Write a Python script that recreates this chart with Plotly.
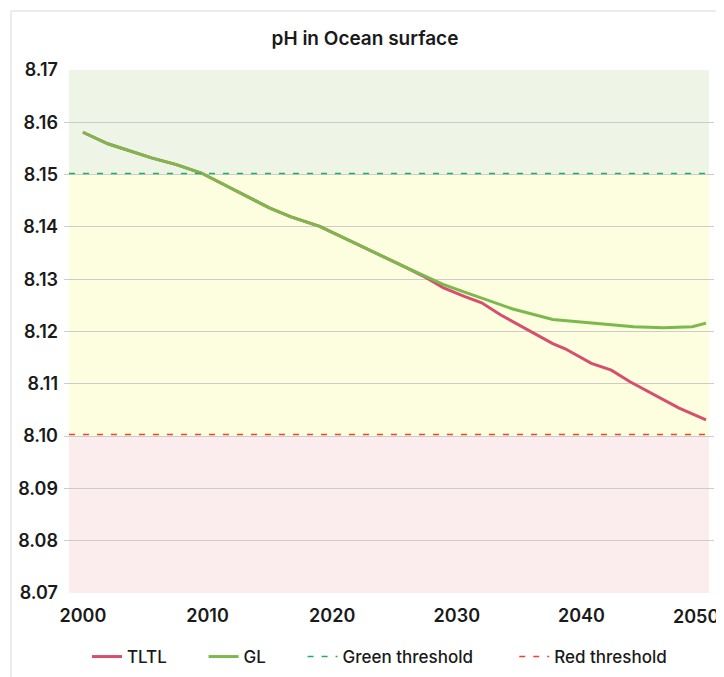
import plotly.graph_objects as go

# ---- data ----
gl_years = [2000, 2002, 2005.5, 2007.5, 2009.5, 2015, 2016.7, 2019, 2025.7, 2028.9,
            2030.8, 2034.5, 2037.7, 2041.5, 2044.2, 2046.6, 2048.9, 2050]
gl_values = [8.1581, 8.1559, 8.1532, 8.1519, 8.1503, 8.1436, 8.1419, 8.1401, 8.1325, 8.1290,
             8.1274, 8.1243, 8.1223, 8.1215, 8.1209, 8.1207, 8.1209, 8.1216]

tltl_years = [2000, 2002, 2005.5, 2007.5, 2009.5, 2015, 2016.7, 2019, 2025.7, 2027.3,
              2028.9, 2030.6, 2032, 2033.5, 2037.7, 2038.7, 2040.8, 2042.4, 2043.9,
              2046.6, 2047.8, 2050]
tltl_values = [8.1581, 8.1559, 8.1532, 8.1519, 8.1503, 8.1436, 8.1419, 8.1401, 8.1325, 8.1306,
               8.1284, 8.1267, 8.1255, 8.1232, 8.1177, 8.1167, 8.1139, 8.1126, 8.1104,
               8.1070, 8.1054, 8.1031]

green_threshold = 8.1502
red_threshold = 8.1003
y_min, y_max = 8.07, 8.17
x_ticks = [2000, 2010, 2020, 2030, 2040, 2050]
band_x = [1998.88, 2050.24]

FONT = "Inter"
NB = "\u00a0"

# figure is placed 8px in from the page edge by the default body margin
W, H = 716, 669
L, R, T, B = 56, 10, 62, 84
PW, PH = W - L - R, H - T - B

fig = go.Figure()
fig.add_trace(go.Scatter(x=tltl_years, y=tltl_values, mode="lines", name="TLTL" + NB * 7,
                         line=dict(color="#d6506e", width=3)))
fig.add_trace(go.Scatter(x=gl_years, y=gl_values, mode="lines", name="GL" + NB * 7,
                         line=dict(color="#7cb94c", width=3)))
fig.add_trace(go.Scatter(x=band_x, y=[green_threshold] * 2, mode="lines",
                         name="Green threshold" + NB * 8,
                         line=dict(color="#1fb25a", width=1.6, dash="6px,8px")))
fig.add_trace(go.Scatter(x=band_x, y=[red_threshold] * 2, mode="lines", name="Red threshold",
                         line=dict(color="#f2442a", width=1.6, dash="6px,8px")))

shapes = [
    dict(type="rect", xref="x", yref="y", x0=band_x[0], x1=band_x[1], y0=8.15, y1=y_max,
         fillcolor="#eef4e6", line=dict(width=0), layer="below"),
    dict(type="rect", xref="x", yref="y", x0=band_x[0], x1=band_x[1], y0=8.10, y1=8.15,
         fillcolor="#fdfde0", line=dict(width=0), layer="below"),
    dict(type="rect", xref="x", yref="y", x0=band_x[0], x1=band_x[1], y0=y_min, y1=8.10,
         fillcolor="#fbeced", line=dict(width=0), layer="below"),
    dict(type="rect", xref="paper", yref="paper", x0=(3 - L) / PW, x1=1.2,
         y0=-0.3, y1=(T + PH - 3) / PH, line=dict(color="#d9d9d9", width=1),
         fillcolor="rgba(0,0,0,0)", layer="below"),
]

# the last year label would overflow the page edge, so it is drawn right-aligned
annotations = [
    dict(text=str(x_ticks[-1]), x=x_ticks[-1], xref="x", y=0, yref="paper",
         xanchor="right", yanchor="middle", xshift=14, yshift=-23, showarrow=False,
         borderpad=0, font=dict(family=FONT, size=18, weight=600, color="#1a1a1a")),
]

fig.update_layout(
    width=W, height=H,
    margin=dict(l=L, r=R, t=T, b=B, autoexpand=False),
    paper_bgcolor="white", plot_bgcolor="white",
    font=dict(family=FONT, color="#1a1a1a", size=16, weight=600),
    title=dict(text="pH in Ocean surface", x=357 / W, xref="container", y=1 - 30 / H,
               yanchor="middle", xanchor="center",
               font=dict(family=FONT, size=19, weight=600, color="#1a1a1a")),
    shapes=shapes,
    annotations=annotations,
    showlegend=True,
    legend=dict(orientation="h", x=(79 - L) / PW, xanchor="left",
                y=(T + PH - 649) / PH, yanchor="middle",
                font=dict(family=FONT, size=17, weight=500, color="#1a1a1a"),
                itemwidth=30, tracegroupgap=0, bgcolor="rgba(0,0,0,0)"),
    xaxis=dict(range=[1998.48, 2050.64], tickvals=x_ticks, showgrid=False, zeroline=False,
               showline=False, ticks="", automargin=False, ticklabelstandoff=10,
               tickfont=dict(size=18, weight=600)),
    yaxis=dict(range=[y_min, y_max], dtick=0.01, tickformat=".2f", showgrid=True,
               gridcolor="#cccccc", gridwidth=1, zeroline=False, showline=False, ticks="",
               automargin=False, ticklabelstandoff=5, tickfont=dict(size=18, weight=600)),
)

fig.write_html("out.html")
